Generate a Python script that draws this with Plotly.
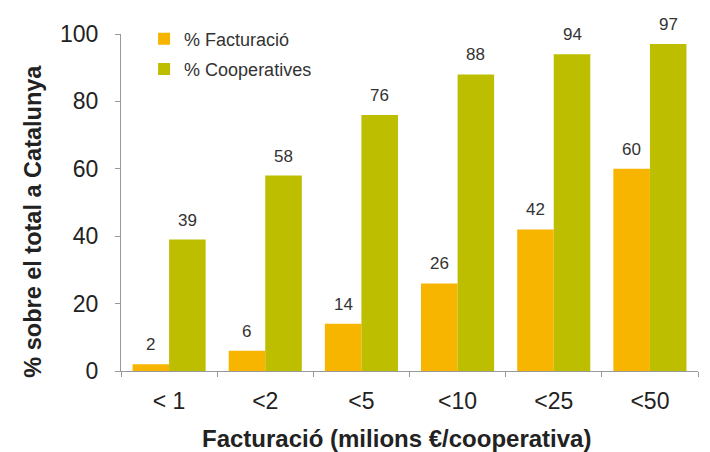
import plotly.graph_objects as go

categories = ["< 1", "<2", "<5", "<10", "<25", "<50"]
facturacio = [2, 6, 14, 26, 42, 60]
cooperatives = [39, 58, 76, 88, 94, 97]

x_title = "Facturació (milions €/cooperativa)"
y_title = "% sobre el total a Catalunya"

L, R, T, B = 113, 20, 18, 89
W, H = 710, 452
bargap = 0.24
cat_w = (W - L - R) / len(categories)
half = cat_w * (1 - bargap) / 4

fig = go.Figure()
fig.add_trace(go.Bar(x=categories, y=facturacio, name="% Facturació",
                     legendgroup="f",
                     marker=dict(color="#F8B500", line=dict(width=0))))
fig.add_trace(go.Bar(x=categories, y=cooperatives, name="% Cooperatives",
                     legendgroup="c",
                     marker=dict(color="#BDBE00", line=dict(width=0))))

for series, shift in ((facturacio, -half), (cooperatives, half)):
    for c, v in zip(categories, series):
        fig.add_annotation(x=c, y=v, text=str(v), showarrow=False,
                           xshift=shift, yshift=8, yanchor="bottom",
                           font=dict(size=17, color="#333333"))

# axis titles (placed as in the reference, slightly off-centre)
fig.add_annotation(text=f"<b>{x_title}</b>", xref="paper", yref="paper",
                   x=0.478, y=-0.2, xanchor="center", yanchor="middle",
                   showarrow=False, font=dict(size=24, color="#222222"))
fig.add_annotation(text=f"<b>{y_title}</b>", xref="paper", yref="paper",
                   x=-0.1525, y=0.443, xanchor="center", yanchor="middle",
                   textangle=-90, showarrow=False,
                   font=dict(size=23.5, color="#222222"))

fig.update_layout(
    width=W, height=H,
    margin=dict(l=L, r=R, t=T, b=B),
    paper_bgcolor="white", plot_bgcolor="white",
    font=dict(family="Liberation Sans, Arial, sans-serif", color="#333333"),
    barmode="group", bargap=bargap, bargroupgap=0,
    showlegend=True,
    legend=dict(x=0.04, y=1.04, xanchor="left", yanchor="top",
                font=dict(size=18, color="#333333"), itemwidth=30,
                tracegroupgap=4, bgcolor="rgba(0,0,0,0)"),
    xaxis=dict(showline=True, linecolor="#999999", linewidth=1,
               ticks="outside", tickson="boundaries", tickcolor="#999999",
               ticklen=5, ticklabelstandoff=9,
               tickfont=dict(size=23, color="#222222"),
               showgrid=False),
    yaxis=dict(range=[0, 100], dtick=20, showline=True, linecolor="#999999",
               linewidth=1, ticks="outside", tickcolor="#999999", ticklen=5,
               ticklabelstandoff=12,
               tickfont=dict(size=23, color="#222222"), showgrid=False,
               zeroline=False),
)

fig.write_html("out.html")
